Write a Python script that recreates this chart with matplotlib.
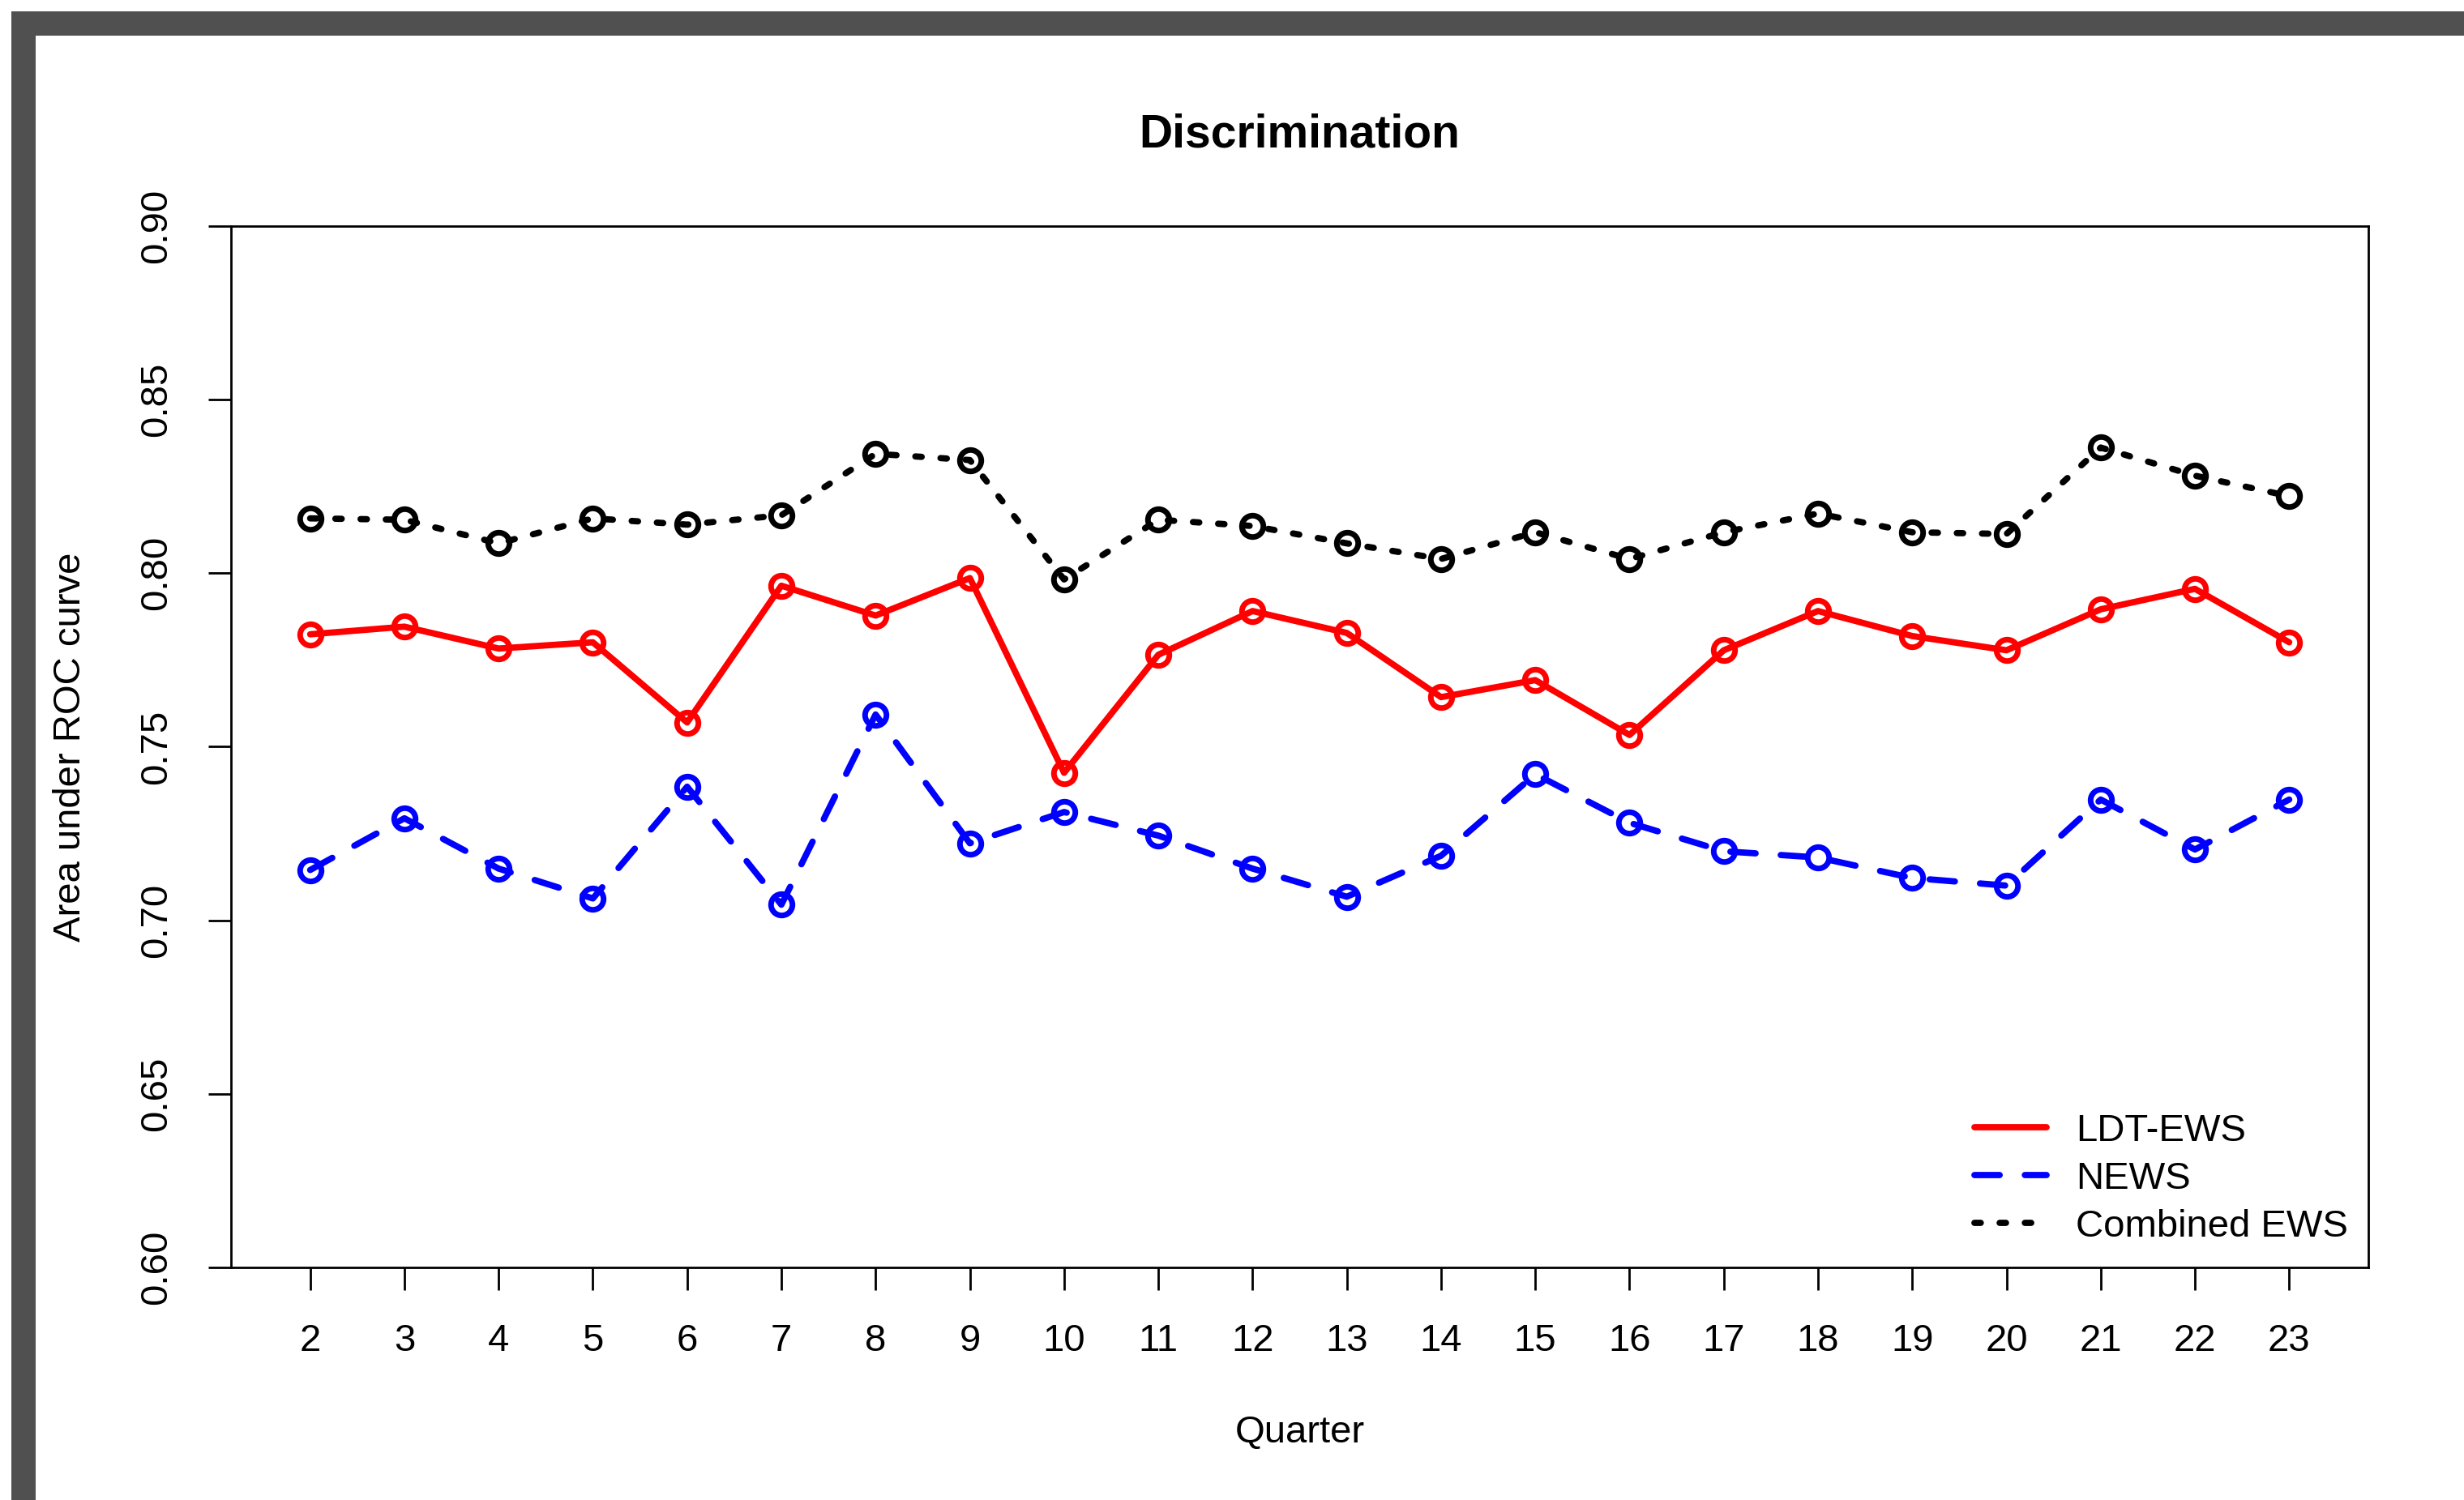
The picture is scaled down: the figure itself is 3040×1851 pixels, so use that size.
import matplotlib
matplotlib.use("Agg")
import matplotlib.pyplot as plt
from matplotlib.patches import Rectangle
from matplotlib.lines import Line2D

quarters = list(range(2, 24))
ldt_ews = [0.7824, 0.7846, 0.7783, 0.7801, 0.7570, 0.7964, 0.7878, 0.7986, 0.7425, 0.7765, 0.7891,
           0.7828, 0.7643, 0.7692, 0.7534, 0.7778, 0.7891, 0.7819, 0.7778, 0.7896, 0.7955, 0.7801]
news = [0.7145, 0.7294, 0.7149, 0.7063, 0.7385, 0.7045, 0.7593, 0.7222, 0.7312, 0.7244, 0.7149,
        0.7068, 0.7186, 0.7421, 0.7281, 0.7199, 0.7181, 0.7122, 0.7100, 0.7348, 0.7204, 0.7348]
combined = [0.8158, 0.8154, 0.8086, 0.8158, 0.8140, 0.8167, 0.8344, 0.8326, 0.7982, 0.8154, 0.8136,
            0.8086, 0.8041, 0.8118, 0.8041, 0.8118, 0.8172, 0.8118, 0.8113, 0.8362, 0.8281, 0.8222]
series_labels = ["LDT-EWS", "NEWS", "Combined EWS"]
y_ticks = [0.60, 0.65, 0.70, 0.75, 0.80, 0.85, 0.90]

plt.rcParams['font.family'] = ['Liberation Sans', 'DejaVu Sans']

W, H = 3040, 1851
DPI = 200
fig = plt.figure(figsize=(W / DPI, H / DPI), dpi=DPI, facecolor='white')

# dark frame (top/left) like the screenshot border
fig.patches.append(Rectangle((14 / W, 0), 1, (H - 14) / H, transform=fig.transFigure,
                             facecolor='#505050', edgecolor='none', zorder=-10))
fig.patches.append(Rectangle((44 / W, 0), 1, (H - 44) / H, transform=fig.transFigure,
                             facecolor='white', edgecolor='none', zorder=-9))

ax_l, ax_r, ax_t, ax_b = 285, 2922, 279, 1564
ax = fig.add_axes([ax_l / W, 1 - ax_b / H, (ax_r - ax_l) / W, (ax_b - ax_t) / H])
ax.set_facecolor('white')

lw = 2.8
ms = 9.5
mew = 2.5
fs = 17
ax.plot(quarters, ldt_ews, color='#FF0000', lw=lw, linestyle='-', marker='o', ms=ms,
        mfc='none', mew=mew, solid_capstyle='round', solid_joinstyle='round')
ax.plot(quarters, news, color='#0000FF', lw=lw, linestyle=(0, (4, 4)), marker='o', ms=ms,
        mfc='none', mew=mew, dash_capstyle='round')
ax.plot(quarters, combined, color='black', lw=lw, linestyle=(0, (1, 3)), marker='o', ms=ms,
        mfc='none', mew=mew, dash_capstyle='round')

ax.set_xlim(2 - 21 * 0.04, 23 + 21 * 0.04)
ax.set_ylim(0.60, 0.90)
ax.set_xticks(quarters)
ax.set_xticklabels([str(q) for q in quarters])
ax.set_yticks(y_ticks)
ax.set_yticklabels([f"{v:.2f}" for v in y_ticks], rotation=90, va='center')

for s in ax.spines.values():
    s.set_linewidth(1.0)
ax.tick_params(axis='both', length=10, width=1.0, labelsize=fs, pad=15)

ax.set_xlabel("Quarter", fontsize=fs)
ax.xaxis.set_label_coords(0.5, (ax_b - 1768) / (ax_b - ax_t))
ax.xaxis.label.set_va('center')
ax.set_ylabel("Area under ROC curve", fontsize=fs)
ax.yaxis.set_label_coords((87 - ax_l) / (ax_r - ax_l), 0.5)
ax.yaxis.label.set_va('center')

ax.text(0.5, (ax_b - 166) / (ax_b - ax_t), "Discrimination", transform=ax.transAxes,
        ha='center', va='center', fontsize=20.5, fontweight='bold')

handles = [
    Line2D([], [], color='#FF0000', lw=lw, linestyle='-', solid_capstyle='round'),
    Line2D([], [], color='#0000FF', lw=lw, linestyle=(0, (4, 4)), dash_capstyle='round'),
    Line2D([], [], color='black', lw=lw, linestyle=(0, (1, 3)), dash_capstyle='round'),
]
ax.legend(handles, series_labels, loc='lower right', bbox_to_anchor=(0.9904, 0.022),
          frameon=False, fontsize=fs, handlelength=1.9, handletextpad=0.75,
          labelspacing=0.32, borderpad=0, borderaxespad=0)

fig.savefig("out.png", dpi=DPI, facecolor='white')
